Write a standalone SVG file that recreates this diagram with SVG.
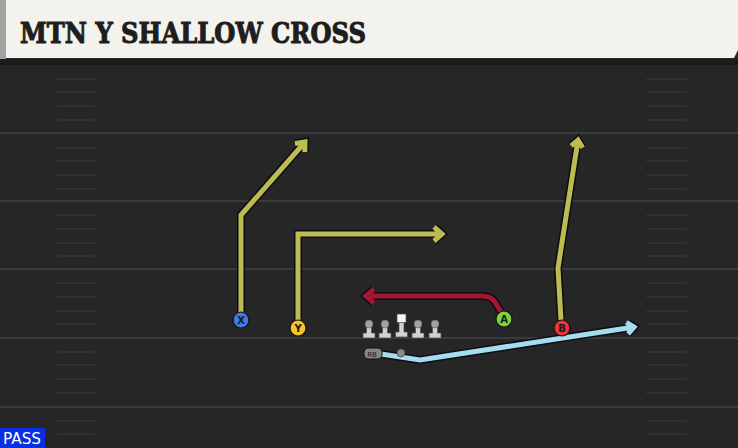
<svg xmlns="http://www.w3.org/2000/svg" width="738" height="448" viewBox="0 0 738 448">
<defs>
<style>
.yl{stroke:#3a3a3a;stroke-width:2}
.hm{stroke:#363636;stroke-width:1.6;stroke-linecap:round}
.ol{fill:none;stroke:#0c0c14;stroke-width:8;stroke-linejoin:miter;stroke-linecap:butt}
.rt{fill:none;stroke-width:5;stroke-linejoin:miter;stroke-linecap:butt}
.yel{stroke:#bcbc52}
.red{stroke:#a3162f}
.blu{stroke:#a6dcee}
.pl{stroke:#111;stroke-width:1.2}
.lbl{font-family:"DejaVu Sans",sans-serif;font-weight:bold;font-size:10px;fill:#1a1a1a;text-anchor:middle}
.ln{fill:#d2d2d2;stroke:#4a4a4a;stroke-width:0.7}
.lh{fill:#a2a2a2;stroke:#4a4a4a;stroke-width:0.5}
</style>
<g id="hash">
<line class="hm" x1="57" y1="0" x2="95" y2="0"/>
<line class="hm" x1="647" y1="0" x2="686" y2="0"/>
</g>
</defs>
<rect width="738" height="448" fill="#262626"/>
<g id="field">
<rect x="0" y="59" width="738" height="6" fill="#1b1b1b"/>
<line class="yl" x1="0" y1="133" x2="738" y2="133"/>
<line class="yl" x1="0" y1="201" x2="738" y2="201"/>
<line class="yl" x1="0" y1="269" x2="738" y2="269"/>
<line class="yl" x1="0" y1="338" x2="738" y2="338"/>
<line class="yl" x1="0" y1="407" x2="738" y2="407"/>
<use href="#hash" y="79"/><use href="#hash" y="92"/><use href="#hash" y="106"/><use href="#hash" y="120"/>
<use href="#hash" y="148"/><use href="#hash" y="161"/><use href="#hash" y="175"/><use href="#hash" y="189"/>
<use href="#hash" y="215"/><use href="#hash" y="229"/><use href="#hash" y="243"/><use href="#hash" y="256"/>
<use href="#hash" y="283"/><use href="#hash" y="297"/><use href="#hash" y="311"/><use href="#hash" y="324"/>
<use href="#hash" y="352"/><use href="#hash" y="365"/><use href="#hash" y="379"/><use href="#hash" y="393"/>
<use href="#hash" y="421"/><use href="#hash" y="434"/>
</g>
<g id="header">
<rect x="0" y="0" width="6" height="59" fill="#a3a3a3"/>
<polygon points="6,0 738,0 738,50 734,58 6,58" fill="#f4f2ec"/>
<text x="20" y="43" font-family="'DejaVu Serif',serif" font-weight="bold" font-size="27" fill="#1e1e1e" stroke="#1e1e1e" stroke-width="1" textLength="346" lengthAdjust="spacingAndGlyphs">MTN Y SHALLOW CROSS</text>
</g>
<g id="connectors">
<g id="route-x">
<path class="ol" d="M241,312 L241,215 L305,142 M295,143.5 L305,142 L304.8,152"/>
<path class="rt yel" d="M241,312 L241,215 L305,142 M295,143.5 L305,142 L304.8,152"/>
</g>
<g id="route-y">
<path class="ol" d="M298,320 L298,234 L442,234 M434,227 L442,234 L434,241"/>
<path class="rt yel" d="M298,320 L298,234 L442,234 M434,227 L442,234 L434,241"/>
</g>
<g id="route-a">
<path class="ol" d="M501,312 L495,302 Q491,296 482,296 L366,296 M374,289 L366,296 L374,303"/>
<path class="rt red" d="M501,312 L495,302 Q491,296 482,296 L366,296 M374,289 L366,296 L374,303"/>
</g>
<g id="route-b">
<path class="ol" d="M561,320 L558,268 L578,140 M571.2,145.9 L578,140 L582.7,147.7"/>
<path class="rt yel" d="M561,320 L558,268 L578,140 M571.2,145.9 L578,140 L582.7,147.7"/>
</g>
<g id="route-rb">
<path class="ol" d="M381,354 L420,360 L634,327 M626.3,322.3 L634,327 L628.1,333.8"/>
<path class="rt blu" d="M381,354 L420,360 L634,327 M626.3,322.3 L634,327 L628.1,333.8"/>
</g>
</g>
<g id="oline">
<g id="lt"><path class="ln" d="M366.5,324 h5 v9 h3.5 v5 h-12 v-5 h3.5 z"/><circle class="lh" cx="369" cy="324" r="4"/></g>
<g id="lg"><path class="ln" d="M382.5,324 h5 v9 h3.5 v5 h-12 v-5 h3.5 z"/><circle class="lh" cx="385" cy="324" r="4"/></g>
<g id="c"><path class="ln" d="M399,321 h5 v11 h3.5 v5 h-12 v-5 h3.5 z"/><rect x="397" y="314" width="9" height="8.5" fill="#f6f6f6" stroke="#4a4a4a" stroke-width="0.7"/></g>
<g id="rg"><path class="ln" d="M415.5,324 h5 v9 h3.5 v5 h-12 v-5 h3.5 z"/><circle class="lh" cx="418" cy="324" r="4"/></g>
<g id="rt"><path class="ln" d="M432.5,324 h5 v9 h3.5 v5 h-12 v-5 h3.5 z"/><circle class="lh" cx="435" cy="324" r="4"/></g>
</g>
<g id="qb"><circle cx="401" cy="353" r="4" fill="#8a8a8a" stroke="#333" stroke-width="0.6"/></g>
<g id="rb">
<rect x="364" y="348" width="18" height="11" rx="4" fill="#858585" stroke="#111" stroke-width="1"/>
<text x="372" y="356.5" font-family="'DejaVu Sans',sans-serif" font-size="7" fill="#1a1a1a" text-anchor="middle">RB</text>
</g>
<g id="x"><circle class="pl" cx="241" cy="320" r="8" fill="#3f7be0"/><text class="lbl" x="241" y="324">X</text></g>
<g id="y"><circle class="pl" cx="298" cy="328" r="8" fill="#f5c42a"/><text class="lbl" x="298" y="332">Y</text></g>
<g id="a"><circle class="pl" cx="504" cy="319" r="8" fill="#7ed23a"/><text class="lbl" x="504" y="323">A</text></g>
<g id="b"><circle class="pl" cx="562" cy="328" r="8" fill="#e8343c"/><text class="lbl" x="562" y="332">B</text></g>
<g id="pass">
<rect x="0" y="428" width="45" height="20" fill="#0a2ee6"/>
<text x="3" y="444" font-family="'DejaVu Sans',sans-serif" font-size="15" fill="#ffffff" textLength="38" lengthAdjust="spacingAndGlyphs">PASS</text>
</g>
</svg>
